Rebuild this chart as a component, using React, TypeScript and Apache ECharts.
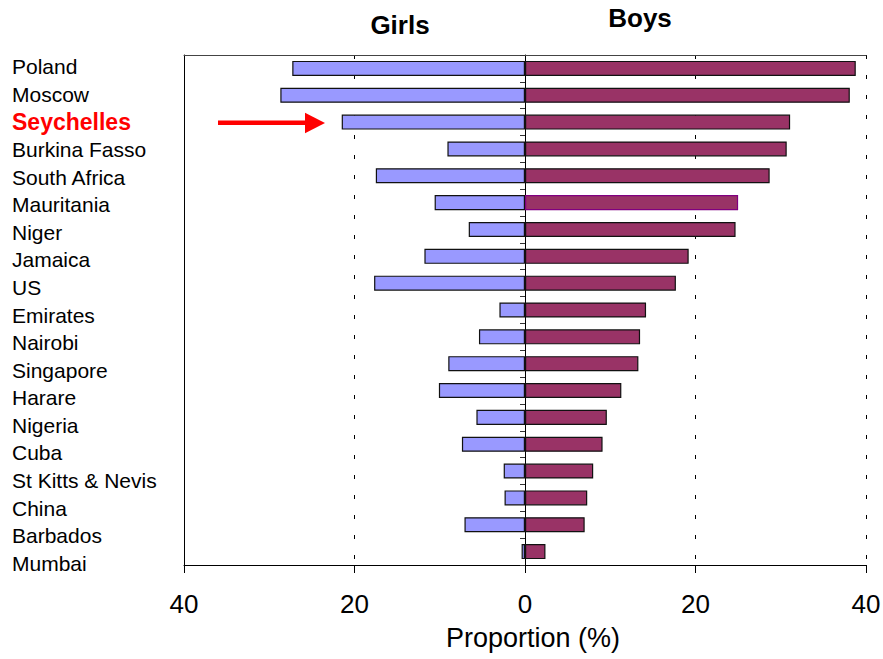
import React, { useEffect, useRef } from "react";
import * as echarts from "echarts";

const categories = [
  "Poland", "Moscow", "Seychelles", "Burkina Fasso", "South Africa", "Mauritania",
  "Niger", "Jamaica", "US", "Emirates", "Nairobi", "Singapore", "Harare",
  "Nigeria", "Cuba", "St Kitts & Nevis", "China", "Barbados", "Mumbai",
];
const girls = [27.3, 28.7, 21.5, 9.1, 17.5, 10.6, 6.6, 11.8, 17.7, 3.0, 5.4, 9.0, 10.1, 5.7, 7.4, 2.5, 2.4, 7.1, 0.4];
const boys = [38.8, 38.1, 31.1, 30.7, 28.7, 25.0, 24.7, 19.2, 17.7, 14.2, 13.5, 13.3, 11.3, 9.6, 9.1, 8.0, 7.3, 7.0, 2.4];
const xTicks = { min: -40, max: 40, interval: 20 };
const highlighted = "Seychelles";
const outlinedBoys = "Mauritania";

const FONT = "'Liberation Sans', Arial, sans-serif";

export default function App() {
  const ref = useRef<HTMLDivElement>(null);
  useEffect(() => {
    if (!ref.current) return;
    const chart = echarts.init(ref.current, null, { renderer: "svg" });
    const option: any = {
      animation: false,
      backgroundColor: "#ffffff",
      textStyle: { fontFamily: FONT },
      title: [
        {
          text: "Girls", left: 395, top: 7, textAlign: "center",
          textStyle: { fontFamily: FONT, fontSize: 26, fontWeight: "bold", color: "#000" },
        },
        {
          text: "Boys", left: 635, top: 0, textAlign: "center",
          textStyle: { fontFamily: FONT, fontSize: 26, fontWeight: "bold", color: "#000" },
        },
      ],
      grid: [
        { left: 184, right: 17, top: 55, bottom: 94, containLabel: false, outerBoundsMode: "none" },
        { left: 184, right: 17, top: 53, bottom: 82, containLabel: false, outerBoundsMode: "none" },
      ],
      xAxis: [
        {
          type: "value", position: "bottom", gridIndex: 0,
          min: xTicks.min, max: xTicks.max, interval: xTicks.interval,
          axisLine: { show: true, onZero: false, lineStyle: { color: "#000", width: 1 } },
          axisTick: { show: true, length: 8, lineStyle: { color: "#000" } },
          axisLabel: {
            color: "#000", fontSize: 26, fontFamily: FONT, margin: 26,
            formatter: (v: number) => String(Math.abs(v)),
          },
          splitLine: { show: true, lineStyle: { color: "#000", type: [4, 16], width: 1 } },
          name: "Proportion (%)", nameLocation: "middle", nameGap: 59,
          nameTextStyle: { color: "#000", fontSize: 27, fontFamily: FONT, padding: [0, 0, 0, 16] },
        },
        {
          type: "value", position: "top", gridIndex: 0,
          min: xTicks.min, max: xTicks.max, interval: xTicks.interval,
          axisLine: { show: true, onZero: false, lineStyle: { color: "#444", width: 1 } },
          axisTick: { show: false }, axisLabel: { show: false }, splitLine: { show: false },
        },
        {
          type: "value", gridIndex: 1, show: false,
          min: xTicks.min, max: xTicks.max, interval: xTicks.interval,
        },
      ],
      yAxis: [
        {
          type: "category", data: categories, inverse: true, gridIndex: 0,
          axisLine: { show: true, onZero: true, lineStyle: { color: "#000", width: 1 } },
          axisTick: { show: true, length: 5, lineStyle: { color: "#333" } },
          axisLabel: { show: false },
          splitLine: { show: false },
        },
        {
          type: "category", data: categories, inverse: true, position: "left", gridIndex: 0,
          axisLine: { show: true, onZero: false, lineStyle: { color: "#000", width: 1 } },
          axisTick: { show: false },
          axisLabel: { show: false },
          splitLine: { show: false },
        },
        {
          type: "category", data: categories, inverse: true, position: "left", gridIndex: 1,
          axisLine: { show: false, onZero: false },
          axisTick: { show: false },
          axisLabel: {
            show: true, align: "left", margin: 172, color: "#000", fontSize: 21, fontFamily: FONT,
            formatter: (v: string) => (v === highlighted ? `{hl|${v}}` : v),
            rich: {
              hl: { color: "#ff0000", fontWeight: "bold", fontSize: 23, fontFamily: FONT },
            },
          },
          splitLine: { show: false },
        },
      ],
      series: [
        {
          name: "Girls", type: "bar", xAxisIndex: 0, yAxisIndex: 0,
          barWidth: "56%", barGap: "-100%",
          itemStyle: { color: "#9999ff", borderColor: "#111", borderWidth: 1.2 },
          data: girls.map((v) => -v),
        },
        {
          name: "Boys", type: "bar", xAxisIndex: 0, yAxisIndex: 0,
          barWidth: "56%", barGap: "-100%",
          itemStyle: { color: "#993366", borderColor: "#111", borderWidth: 1.2 },
          data: boys.map((v, i) =>
            categories[i] === outlinedBoys
              ? { value: v, itemStyle: { borderColor: "#800080" } }
              : v
          ),
        },
      ],
      graphic: [
        {
          type: "group",
          children: [
            { type: "rect", shape: { x: 218, y: 120.5, width: 90, height: 4.5 }, style: { fill: "#ff0000" } },
            { type: "polygon", shape: { points: [[305, 112.7], [325, 123], [305, 133.3]] }, style: { fill: "#ff0000" } },
          ],
        },
      ],
    };
    chart.setOption(option);
    return () => chart.dispose();
  }, []);
  return (
    <div
      ref={ref}
      style={{ position: "fixed", left: 0, top: 0, width: 883, height: 659, background: "#fff" }}
    />
  );
}
